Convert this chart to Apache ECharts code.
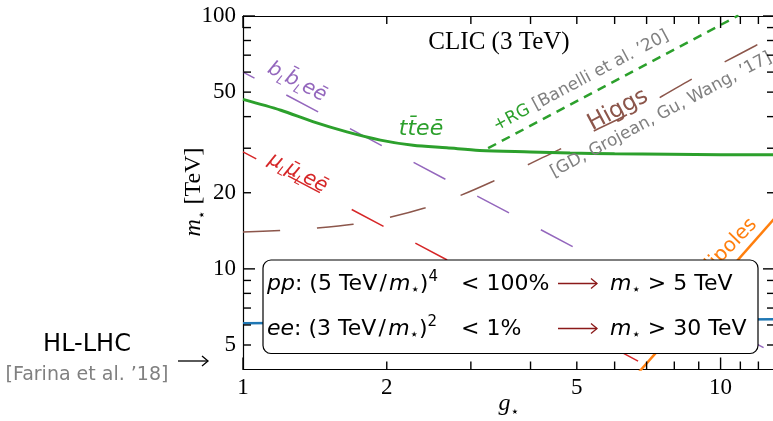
<!DOCTYPE html>
<html lang="en">
  <head>
    <meta charset="utf-8" />
    <script src="https://cdn.jsdelivr.net/npm/echarts@6/dist/echarts.min.js"></script>
    <style>
      html, body { margin: 0; padding: 0; background: #fff; }
      #chart { width: 773px; height: 421px; }
    </style>
    <title>m* vs g*</title>
  </head>
  <body>
    <div id="chart"></div>
    <script>
      // values: g* on x, m* [TeV] on y
      var ttG = [1, 1.2, 1.4, 1.65, 1.94, 2.27, 2.67, 3.13, 4, 4.84, 6, 7.83, 10, 13]
      var ttM = [46.8, 42.4, 38.2, 34.8, 32.3, 30.8, 30.1, 29.4, 29.0, 28.7, 28.5, 28.4, 28.3, 28.3]
      var rgG = [3.26, 10.9]
      var rgM = [30.0, 100.5]
      var higgsG = [1, 1.2, 1.43, 1.7, 2.03, 2.4, 2.85, 3.34, 3.93, 4.59, 5.38, 6.16, 7.4, 8.63, 10.05, 11.8, 13]
      var higgsM = [14.0, 14.2, 14.5, 15.0, 16.0, 17.4, 19.5, 22.2, 25.7, 29.6, 34.8, 39.4, 47.2, 55.8, 64.9, 76.1, 84]
      var bbG = [1, 13]
      var bbM = [60, 4.62]
      var mumuG = [1, 7.5]
      var mumuM = [29, 3.87]
      var hlG = [1, 13]
      var hlM = [6.1, 6.32]
      var dipG = [6.7, 13]
      var dipM = [3.85, 15.9]

      var X_MIN = 1, X_MAX = 13, Y_MIN = 4, Y_MAX = 100
      var xLabels = [1, 2, 5, 10]
      var xMinor = [2, 3, 4, 5, 6, 7, 8, 9, 11, 12]
      var xMajor = [1, 10]
      var yLabels = [5, 10, 20, 50, 100]
      var yMinor = [5, 6, 7, 8, 9, 20, 30, 40, 50, 60, 70, 80, 90]
      var yMajor = [10, 100]

      var SANS = '"DejaVu Sans"'
      var SERIF = '"Liberation Serif"'
      var GRAY = '#808080'

      function pairs (xs, ys) {
        return xs.map(function (x, i) { return [x, ys[i]] })
      }

      // log axis carrying the spine and the tick labels
      function mainAxis (dim, pos, labels) {
        var a = {
          type: 'log', position: pos,
          min: dim === 'x' ? X_MIN : Y_MIN, max: dim === 'x' ? X_MAX : Y_MAX,
          axisLine: { show: true, onZero: false, lineStyle: { color: '#000', width: 1.2 } },
          axisTick: { show: false },
          axisLabel: { show: false },
          splitLine: { show: false }
        }
        if (labels) {
          a.axisLabel = {
            show: true, customValues: labels, color: '#000',
            fontFamily: 'Liberation Serif', fontSize: 23, margin: 7
          }
        }
        return a
      }

      function line (name, xs, ys, color, width, dash, offset, smooth) {
        return {
          name: name, type: 'line', data: pairs(xs, ys),
          symbol: 'none', smooth: smooth || false, clip: true, silent: true,
          lineStyle: { color: color, width: width, type: dash || 'solid', dashOffset: offset || 0 }
        }
      }

      function txt (x, y, text, font, fill, rot, extra) {
        var el = {
          type: 'text', x: x, y: y, rotation: rot || 0, z: 120,
          style: { text: text, font: font, fill: fill, align: 'center', verticalAlign: 'middle' }
        }
        if (extra) Object.assign(el.style, extra)
        return el
      }

      // sub/superscript styles for rich text
      function richSans (size, color) {
        return {
          i: { font: 'italic ' + size + 'px ' + SANS, fill: color, lineHeight: size + 6 },
          sb: { font: Math.round(size * 0.68) + 'px ' + SANS, fill: color, lineHeight: Math.round(size * 0.68) + 2, verticalAlign: 'bottom' },
          is: { font: 'italic ' + Math.round(size * 0.62) + 'px ' + SANS, fill: color, lineHeight: Math.round(size * 0.62) + 3, verticalAlign: 'bottom' },
          sp: { font: Math.round(size * 0.68) + 'px ' + SANS, fill: color, lineHeight: Math.round(size * 0.68), verticalAlign: 'top' }
        }
      }

      var boxRich = richSans(22, '#000')
      var ARROW = '#8b1a1a'

      function arrow (x0, x1, y, color) {
        return [
          { type: 'line', z: 130, shape: { x1: x0, y1: y, x2: x1, y2: y }, style: { stroke: color, lineWidth: 1.3 } },
          { type: 'polyline', z: 130, shape: { points: [[x1 - 6, y - 5], [x1, y], [x1 - 6, y + 5]] }, style: { stroke: color, lineWidth: 1.3, fill: null } }
        ]
      }

      var graphics = [
        // box with the pp / ee statements
        { type: 'rect', z: 110, shape: { x: 263, y: 260, width: 495, height: 93.5, r: 8 }, style: { fill: '#fff', stroke: '#000', lineWidth: 1.2 } },
        txt(267, 284, '{i|pp}: (5 TeV\u200a/\u200a{i|m}{sb|\u22c6}){sp|4}', '22px ' + SANS, '#000', 0, { align: 'left', rich: boxRich, lineHeight: 28 }),
        txt(461, 284, '< 100%', '22px ' + SANS, '#000', 0, { align: 'left' }),
        txt(610, 284, '{i|m}{sb|\u22c6} > 5 TeV', '22px ' + SANS, '#000', 0, { align: 'left', rich: boxRich, lineHeight: 28 }),
        txt(267, 329, '{i|ee}: (3 TeV\u200a/\u200a{i|m}{sb|\u22c6}){sp|2}', '22px ' + SANS, '#000', 0, { align: 'left', rich: boxRich, lineHeight: 28 }),
        txt(461, 329, '< 1%', '22px ' + SANS, '#000', 0, { align: 'left' }),
        txt(610, 329, '{i|m}{sb|\u22c6} > 30 TeV', '22px ' + SANS, '#000', 0, { align: 'left', rich: boxRich, lineHeight: 28 }),

        txt(499, 42, 'CLIC (3 TeV)', '25px ' + SERIF, '#000'),
        txt(421, 129, 'tt\u0304ee\u0304', 'italic 22px ' + SANS, '#2ca02c'),
        txt(297, 82, '{i|b}{is|L}{i|b\u0304}{is|L}{i|ee\u0304}', 'italic 20px ' + SANS, '#9467bd', -0.49, { rich: richSans(20, '#9467bd'), lineHeight: 26 }),
        txt(298, 173, '{i|\u03bc}{is|L}{i|\u03bc\u0304}{is|L}{i|ee\u0304}', 'italic 20px ' + SANS, '#d62728', -0.49, { rich: richSans(20, '#d62728'), lineHeight: 26 }),
        txt(581, 81, '{g|+RG} [Banelli et al. \u201920]', '17px ' + SANS, GRAY, 0.49, { rich: { g: { font: '17px ' + SANS, fill: '#2ca02c' } } }),
        txt(618, 110, 'Higgs', '23px ' + SANS, '#8c564b', 0.49),
        txt(661, 115, '[GD, Grojean, Gu, Wang, \u201917]', '17px ' + SANS, GRAY, 0.49),
        Object.assign(txt(729, 247, 'dipoles', '20px ' + SANS, '#ff7f0e', 0.8), { z: 100 }),

        // axis names
        txt(194, 192, '{m|m}{s|\u22c6} [TeV]', '24px ' + SERIF, '#000', Math.PI / 2, {
          rich: { m: { font: 'italic 24px ' + SERIF, lineHeight: 30 }, s: { font: '14px ' + SANS, lineHeight: 17, verticalAlign: 'bottom' } }, lineHeight: 30
        }),
        txt(509, 404, '{m|g}{s|\u22c6}', '24px ' + SERIF, '#000', 0, {
          rich: { m: { font: 'italic 24px ' + SERIF, lineHeight: 30 }, s: { font: '14px ' + SANS, lineHeight: 17, verticalAlign: 'bottom' } }, lineHeight: 30
        }),

        // HL-LHC note on the left
        txt(87, 345, 'HL-LHC', '24px ' + SANS, '#000'),
        txt(87, 375, '[Farina et al. \u201918]', '19px ' + SANS, GRAY)
      ]
      graphics = graphics.concat(arrow(558, 597, 283.5, ARROW), arrow(558, 597, 328.5, ARROW), arrow(178, 208, 361, '#000'))

      var chart = echarts.init(document.getElementById('chart'), null, { renderer: 'canvas' })
      chart.setOption({
        animation: false,
        grid: { left: 243, top: 16, right: -2, bottom: 51.5, outerBoundsMode: 'none' },
        xAxis: [mainAxis('x', 'bottom', xLabels), mainAxis('x', 'top', null)],
        yAxis: [mainAxis('y', 'left', yLabels), mainAxis('y', 'right', null)],
        series: [
          line('HL-LHC', hlG, hlM, '#1f77b4', 2.5),
          line('dipoles', dipG, dipM, '#ff7f0e', 2.5),
          line('mumuee', mumuG, mumuM, '#d62728', 1.5, [36, 36], 21),
          line('bbee', bbG, bbM, '#9467bd', 1.5, [36, 36], 23),
          line('Higgs', higgsG, higgsM, '#8c564b', 1.5, [37, 37], 0, 0.2),
          line('ttee', ttG, ttM, '#2ca02c', 3, null, 0, 0.3),
          line('RG', rgG, rgM, '#2ca02c', 2.5, [9, 6.5], 0)
        ]
      })

      // inward tick marks on all four spines, placed through the axes' scales
      var TW = 1.4
      function tickMark (pt, dx, dy) {
        var p = chart.convertToPixel({ gridIndex: 0 }, pt)
        var x = dx ? (dx > 0 ? p[0] : p[0] + dx) : p[0] - TW / 2
        var y = dy ? (dy > 0 ? p[1] : p[1] + dy) : p[1] - TW / 2
        return {
          type: 'rect', z: 140,
          shape: { x: x, y: y, width: dx ? Math.abs(dx) : TW, height: dy ? Math.abs(dy) : TW },
          style: { fill: '#000' }
        }
      }
      var tickEls = []
      xMinor.forEach(function (v) { tickEls.push(tickMark([v, Y_MIN], 0, -8), tickMark([v, Y_MAX], 0, 8)) })
      xMajor.forEach(function (v) { tickEls.push(tickMark([v, Y_MIN], 0, -12), tickMark([v, Y_MAX], 0, 12)) })
      yMinor.forEach(function (v) { tickEls.push(tickMark([X_MIN, v], 8, 0), tickMark([X_MAX, v], -8, 0)) })
      yMajor.forEach(function (v) { tickEls.push(tickMark([X_MIN, v], 12, 0), tickMark([X_MAX, v], -12, 0)) })

      chart.setOption({ graphic: { elements: graphics.concat(tickEls) } })
    </script>
  </body>
</html>
